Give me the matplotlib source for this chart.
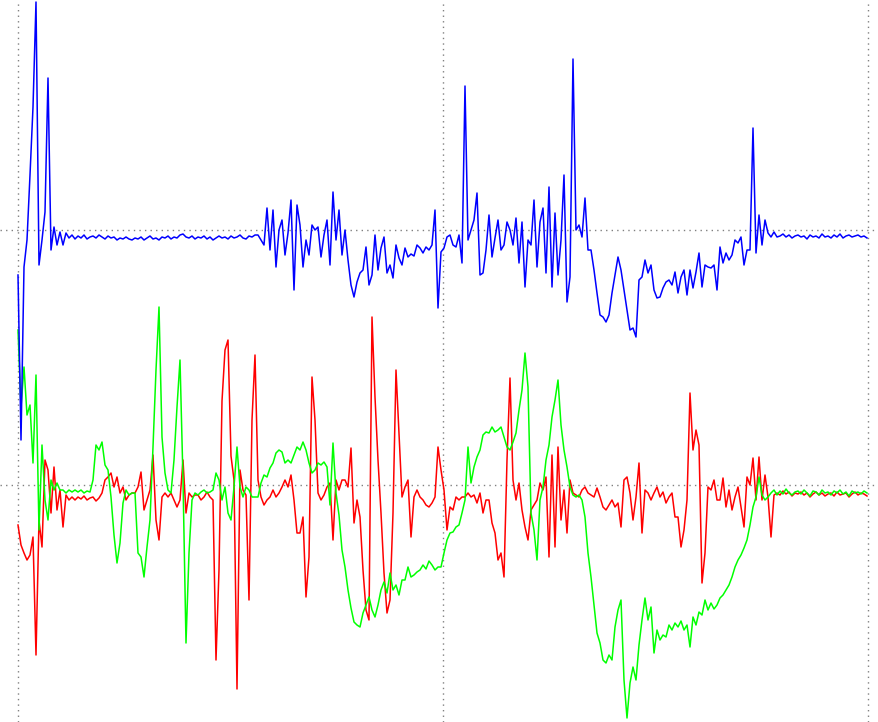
import numpy as np
import matplotlib
matplotlib.use("Agg")
import matplotlib.pyplot as plt

# Sample spacing (time units) and channel offset for the upper (blue) trace
DT = 3.0 / 85.0
BLUE_OFFSET = 255

blue = [
    -45, -210, -37, -10, 55, 123, 228, -35, -10, 18,
    152, -20, 3, -15, -2, -15, -3, -8, -5, -9,
    -6, -8, -5, -9, -7, -6, -8, -5, -7, -9,
    -6, -8, -7, -10, -8, -9, -7, -9, -10, -8,
    -9, -7, -10, -8, -6, -9, -8, -10, -7, -8,
    -6, -9, -7, -8, -5, -4, -7, -8, -6, -9,
    -7, -8, -6, -9, -7, -10, -8, -6, -8, -7,
    -9, -6, -8, -7, -5, -8, -9, -6, -7, -5,
    -5, -10, -15, 22, -20, 20, -37, 0, 10, -25,
    -3, 30, -60, 25, 5, -37, -10, -25, 5, 0,
    3, -27, -5, 10, -35, 38, -10, 20, -25, 0,
    -30, -55, -67, -52, -43, -40, -17, -55, -45, -5,
    -40, -18, -7, -43, -35, -48, -15, -28, -35, -18,
    -27, -24, -26, -15, -18, -23, -17, -20, -15, 20,
    -78, -22, -18, -7, -5, -15, -17, -5, -33, 144,
    -10, 0, 10, 37, -45, -43, -20, 15, -27, -8,
    10, -20, -15, 8, 0, -15, 12, -33, 8, -57,
    -10, -15, 30, -37, 8, 22, -43, 43, -57, 17,
    -45, -10, 55, -72, -47, 171, 0, 5, -7, 32,
    -20, -20, -40, -63, -85, -87, -92, -85, -63, -45,
    -27, -40, -60, -80, -100, -98, -107, -50, -47, -30,
    -43, -35, -60, -68, -67, -58, -52, -50, -55, -42,
    -63, -47, -40, -65, -40, -58, -42, -23, -57, -35,
    -37, -38, -35, -60, -17, -33, -23, -30, -25, -10,
    -13, -7, -35, -20, -20, 102, -23, 15, -15, 10,
    -3, -7, -2, -7, -6, -4, -7, -5, -8, -6,
    -5, -7, -6, -9, -5, -7, -6, -8, -4, -7,
    -6, -8, -5, -7, -4, -8, -6, -5, -7, -6,
    -5, -7, -6, -8,
]

red = [
    -40, -60, -68, -75, -70, -52, -170, -35, -62, 25,
    15, -28, 18, -25, -5, -42, -10, -15, -12, -15,
    -12, -14, -11, -15, -13, -12, -16, -13, -8, 5,
    8, 12, -2, 8, -8, -2, -15, -10, -8, -8,
    -2, 13, -25, -15, -5, 30, -35, -55, -12, -8,
    -12, -8, -15, -22, -15, 25, -28, -8, -12, -10,
    -10, -15, -12, -7, -12, -15, -175, -85, 84, 135,
    145, 29, 5, -204, 15, -5, -10, -115, 65, 130,
    5, -12, -20, -15, -12, -5, -12, -8, -2, 5,
    -2, 10, -15, -48, -48, -32, -112, -72, 108, 65,
    -8, -15, -10, -2, 2, -55, 5, -5, 5, 5,
    -2, 37, -38, -15, -32, -85, -125, -135, 168, 88,
    25, -28, -88, -128, -115, -28, 115, 52, -12, -2,
    5, -52, -12, -5, -12, -15, -20, -22, -18, -12,
    38, 15, -5, -45, -22, -25, -12, -15, -12, -12,
    -8, -12, -10, -18, -8, -28, -15, -15, -38, -48,
    -75, -68, -92, 25, 107, 5, -15, 2, -25, -42,
    -55, -25, -20, -15, 2, -5, 8, -72, 30, -62,
    38, -35, -5, -48, 5, -8, -10, -12, -5, -2,
    -8, -10, -12, -3, -12, -22, -25, -20, -15, -22,
    -18, -42, 5, 8, -8, -35, -12, 22, -48, -5,
    -8, -15, -8, -2, -12, -7, -18, -12, -8, -32,
    -32, -62, -45, -15, 92, 35, 55, 40, -98, -68,
    -2, -5, 5, -15, -15, 7, -22, -5, -25, -12,
    -2, -22, -42, 8, 0, 27, -15, 28, -15, 10,
    -12, -52, -10, -8, -10, -6, -9, -7, -11, -8,
    -9, -7, -10, -8, -12, -9, -7, -10, -8, -11,
    -9, -8, -11, -7, -10, -9, -8, -12, -9, -7,
    -10, -8, -9, -11,
]

green = [
    155, 78, 118, 70, 80, 22, 110, -45, 40, -15,
    -35, 5, -5, 2, -5, -5, -8, -5, -7, -5,
    -7, -5, -8, -6, -7, 5, 40, 35, 43, 20,
    15, -12, -50, -78, -58, -18, -5, -10, -8, -8,
    -68, -72, -92, -62, -35, 38, 115, 178, 48, 12,
    -5, -8, 25, 78, 125, 5, -158, -68, -15, -8,
    -10, -7, -5, -8, -7, -5, 12, 5, -15, -2,
    -28, -35, -2, 38, -2, -12, -2, -5, -12, -12,
    -12, 2, 10, 8, 17, 22, 32, 35, 33, 22,
    25, 22, 30, 38, 35, 43, 35, 22, 12, 15,
    22, 20, 23, 18, -20, 42, -8, -30, -65, -82,
    -105, -123, -137, -140, -142, -128, -120, -112, -125, -132,
    -120, -105, -97, -108, -88, -105, -100, -110, -95, -95,
    -82, -92, -90, -87, -85, -80, -84, -76, -80, -85,
    -82, -82, -68, -55, -48, -47, -42, -40, -28, -15,
    38, 2, 18, 28, 35, 50, 53, 52, 58, 53,
    55, 58, 48, 38, 35, 43, 52, 75, 95, 132,
    98, -28, -45, -75, -15, -2, 25, 40, 68, 85,
    105, 60, 35, 18, -2, -10, -12, -10, -15, -32,
    -68, -92, -120, -148, -158, -175, -178, -170, -175, -142,
    -125, -115, -195, -233, -198, -182, -195, -160, -135, -113,
    -135, -122, -168, -145, -155, -150, -152, -140, -145, -138,
    -142, -136, -145, -140, -162, -132, -140, -127, -130, -115,
    -125, -118, -124, -120, -113, -110, -105, -100, -92, -82,
    -75, -70, -63, -55, -40, -22, -12, 8, -10, -15,
    -12, -8, -5, -10, -6, -9, -4, -8, -10, -7,
    -6, -9, -5, -8, -11, -6, -7, -10, -5, -8,
    -7, -10, -6, -8, -5, -9, -7, -11, -6, -8,
    -7, -9, -6, -8,
]

W, H = 879, 722
fig = plt.figure(figsize=(W / 100, H / 100), dpi=100)
ax = fig.add_axes([0, 0, 1, 1])

t_red = np.arange(len(red)) * DT
t_green = np.arange(len(green)) * DT
t_blue = np.arange(len(blue)) * DT

LW = 1.1
ax.plot(t_red, red, color="#ff0000", lw=LW)
ax.plot(t_green, green, color="#00ff00", lw=LW)
ax.plot(t_blue, np.array(blue) + BLUE_OFFSET, color="#0000ff", lw=LW)

ax.set_xlim(-18 / 85, 10 + 11 / 85)
ax.set_ylim(-237, 485)
ax.set_xticks([0, 5, 10])
ax.set_yticks([0, BLUE_OFFSET])
ax.tick_params(length=0, labelbottom=False, labelleft=False)
for s in ax.spines.values():
    s.set_visible(False)
ax.grid(True, color="#808080", linestyle=(0, (1, 3)), linewidth=1.0)
ax.set_axisbelow(True)

fig.savefig("out.png", dpi=100)
